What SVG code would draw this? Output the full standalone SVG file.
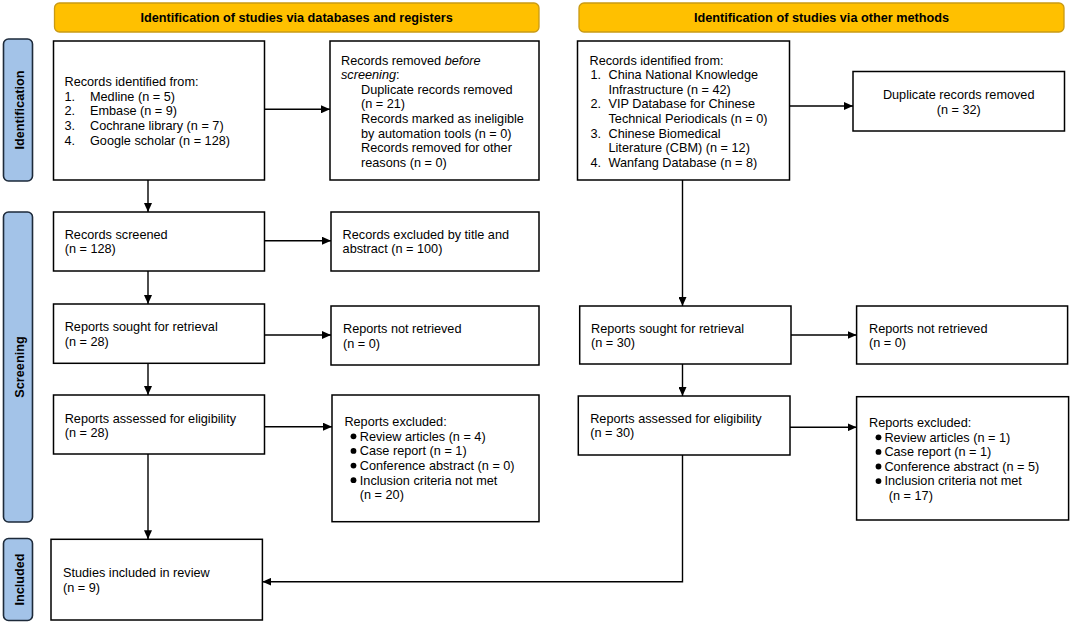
<svg xmlns="http://www.w3.org/2000/svg" width="1072" height="625" viewBox="0 0 1072 625">
<defs>
<marker id="arr" markerUnits="userSpaceOnUse" markerWidth="9" markerHeight="8" refX="9" refY="4" orient="auto">
<path d="M0,0 L9,4 L0,8 z" fill="#000"/>
</marker>
<style>
text{font-family:"Liberation Sans",Arial,Helvetica,sans-serif;font-size:12.7px;fill:#000}
.b{font-weight:bold}
.box{fill:#fff;stroke:#000;stroke-width:1.5}
.ban{fill:#FFC000;stroke:#C99A14;stroke-width:1.3}
.side{fill:#A3C3E8;stroke:#1d2a3a;stroke-width:1.6}
.con{fill:none;stroke:#000;stroke-width:1.4}
.dot{fill:#000}
</style>
</defs>
<rect width="1072" height="625" fill="#fff"/>

<g id="banner-left"><rect class="ban" x="54.5" y="3" width="484.5" height="29" rx="5"/><text class="b" x="296.7" y="22" text-anchor="middle">Identification of studies via databases and registers</text></g>
<g id="banner-right"><rect class="ban" x="579" y="3" width="485" height="29" rx="5"/><text class="b" x="821.5" y="22" text-anchor="middle">Identification of studies via other methods</text></g>

<g id="side-identification"><rect class="side" x="3.5" y="39" width="29" height="142" rx="5"/><text class="b" transform="translate(23.5,110) rotate(-90)" text-anchor="middle">Identification</text></g>
<g id="side-screening"><rect class="side" x="3.5" y="212" width="29" height="310" rx="5"/><text class="b" transform="translate(23.5,367) rotate(-90)" text-anchor="middle">Screening</text></g>
<g id="side-included"><rect class="side" x="3.5" y="538.5" width="29" height="82" rx="5"/><text class="b" transform="translate(23.5,579.5) rotate(-90)" text-anchor="middle">Included</text></g>

<g id="records-identified-db"><rect class="box" x="53.5" y="41" width="211" height="139"/>
<text x="64.5" y="86">Records identified from:</text>
<text x="64.5" y="100.7">1.</text><text x="90" y="100.7">Medline (n = 5)</text>
<text x="64.5" y="115.4">2.</text><text x="90" y="115.4">Embase (n = 9)</text>
<text x="64.5" y="130.1">3.</text><text x="90" y="130.1">Cochrane library (n = 7)</text>
<text x="64.5" y="144.8">4.</text><text x="90" y="144.8">Google scholar (n = 128)</text>
</g>

<g id="records-removed"><rect class="box" x="330" y="41" width="209" height="139"/>
<text x="341" y="64.5">Records removed <tspan font-style="italic">before</tspan></text>
<text x="341" y="79.1"><tspan font-style="italic">screening</tspan>:</text>
<text x="361" y="93.7">Duplicate records removed</text>
<text x="361" y="108.3">(n = 21)</text>
<text x="361" y="122.9">Records marked as ineligible</text>
<text x="361" y="137.5">by automation tools (n = 0)</text>
<text x="361" y="152.1">Records removed for other</text>
<text x="361" y="166.7">reasons (n = 0)</text>
</g>

<g id="records-identified-other"><rect class="box" x="577.5" y="41" width="212" height="139"/>
<text x="589.5" y="64.5">Records identified from:</text>
<text x="590.5" y="79.1">1.</text><text x="608.5" y="79.1">China National Knowledge</text>
<text x="608.5" y="93.7">Infrastructure (n = 42)</text>
<text x="590.5" y="108.3">2.</text><text x="608.5" y="108.3">VIP Database for Chinese</text>
<text x="608.5" y="122.9">Technical Periodicals (n = 0)</text>
<text x="590.5" y="137.5">3.</text><text x="608.5" y="137.5">Chinese Biomedical</text>
<text x="608.5" y="152.1">Literature (CBM) (n = 12)</text>
<text x="590.5" y="166.7">4.</text><text x="608.5" y="166.7">Wanfang Database (n = 8)</text>
</g>

<g id="duplicates-removed"><rect class="box" x="853" y="71.5" width="211.5" height="59.5"/>
<text x="958.7" y="99.4" text-anchor="middle">Duplicate records removed</text>
<text x="958.7" y="114" text-anchor="middle">(n = 32)</text>
</g>

<g id="records-screened"><rect class="box" x="53.5" y="212" width="211" height="59"/>
<text x="64.7" y="238.7">Records screened</text><text x="64.7" y="253.3">(n = 128)</text></g>

<g id="records-excluded"><rect class="box" x="331" y="212" width="208" height="59"/>
<text x="342.6" y="238.7">Records excluded by title and</text><text x="342.6" y="253.3">abstract (n = 100)</text></g>

<g id="sought-db"><rect class="box" x="53.5" y="304" width="211" height="59.3"/>
<text x="64.7" y="331">Reports sought for retrieval</text><text x="64.7" y="345.6">(n = 28)</text></g>

<g id="not-retrieved-db"><rect class="box" x="331" y="306" width="208" height="59"/>
<text x="343" y="333">Reports not retrieved</text><text x="343" y="347.6">(n = 0)</text></g>

<g id="assessed-db"><rect class="box" x="53.5" y="395" width="211" height="59"/>
<text x="64.7" y="422.7">Reports assessed for eligibility</text><text x="64.7" y="437.3">(n = 28)</text></g>

<g id="excluded-db"><rect class="box" x="332" y="395" width="207" height="126.7"/>
<text x="344.4" y="426">Reports excluded:</text>
<circle class="dot" cx="353.5" cy="436.3" r="2.9"/><text x="359.8" y="440.7">Review articles (n = 4)</text>
<circle class="dot" cx="353.5" cy="450.9" r="2.9"/><text x="359.8" y="455.3">Case report (n = 1)</text>
<circle class="dot" cx="353.5" cy="465.6" r="2.9"/><text x="359.8" y="470">Conference abstract (n = 0)</text>
<circle class="dot" cx="353.5" cy="480.2" r="2.9"/><text x="359.8" y="484.6">Inclusion criteria not met</text>
<text x="359.8" y="499.2">(n = 20)</text>
</g>

<g id="sought-other"><rect class="box" x="579.7" y="306" width="211.3" height="58"/>
<text x="591" y="332.7">Reports sought for retrieval</text><text x="591" y="347.3">(n = 30)</text></g>

<g id="not-retrieved-other"><rect class="box" x="856.6" y="306" width="211" height="58"/>
<text x="869" y="332.7">Reports not retrieved</text><text x="869" y="347.3">(n = 0)</text></g>

<g id="assessed-other"><rect class="box" x="578.3" y="396" width="211.7" height="59"/>
<text x="590.2" y="422.7">Reports assessed for eligibility</text><text x="590.2" y="437.3">(n = 30)</text></g>

<g id="excluded-other"><rect class="box" x="856.6" y="396.7" width="212" height="123.3"/>
<text x="869" y="427">Reports excluded:</text>
<circle class="dot" cx="878.5" cy="437.3" r="2.9"/><text x="884.4" y="441.6">Review articles (n = 1)</text>
<circle class="dot" cx="878.5" cy="451.9" r="2.9"/><text x="884.4" y="456.2">Case report (n = 1)</text>
<circle class="dot" cx="878.5" cy="466.5" r="2.9"/><text x="884.4" y="470.8">Conference abstract (n = 5)</text>
<circle class="dot" cx="878.5" cy="481.1" r="2.9"/><text x="884.4" y="485.4">Inclusion criteria not met</text>
<text x="888.8" y="500">(n = 17)</text>
</g>

<g id="included"><rect class="box" x="51" y="539.3" width="211.4" height="80.7"/>
<text x="63" y="577">Studies included in review</text><text x="63" y="591.7">(n = 9)</text></g>

<g id="connectors">
<path class="con" marker-end="url(#arr)" d="M264.5,109.3 H330"/>
<path class="con" marker-end="url(#arr)" d="M148,180 V212"/>
<path class="con" marker-end="url(#arr)" d="M264.5,240.7 H331"/>
<path class="con" marker-end="url(#arr)" d="M148,271 V304"/>
<path class="con" marker-end="url(#arr)" d="M264.5,335 H331"/>
<path class="con" marker-end="url(#arr)" d="M148,363.3 V395"/>
<path class="con" marker-end="url(#arr)" d="M264.5,426.7 H332"/>
<path class="con" marker-end="url(#arr)" d="M148,454 V539.3"/>
<path class="con" marker-end="url(#arr)" d="M789.5,106 H853"/>
<path class="con" marker-end="url(#arr)" d="M682.5,180 V306"/>
<path class="con" marker-end="url(#arr)" d="M791,335 H856.6"/>
<path class="con" marker-end="url(#arr)" d="M682.5,364 V396"/>
<path class="con" marker-end="url(#arr)" d="M790,427.3 H856.6"/>
<path class="con" marker-end="url(#arr)" d="M682.5,455 V581.7 H262.4"/>
</g>
</svg>
